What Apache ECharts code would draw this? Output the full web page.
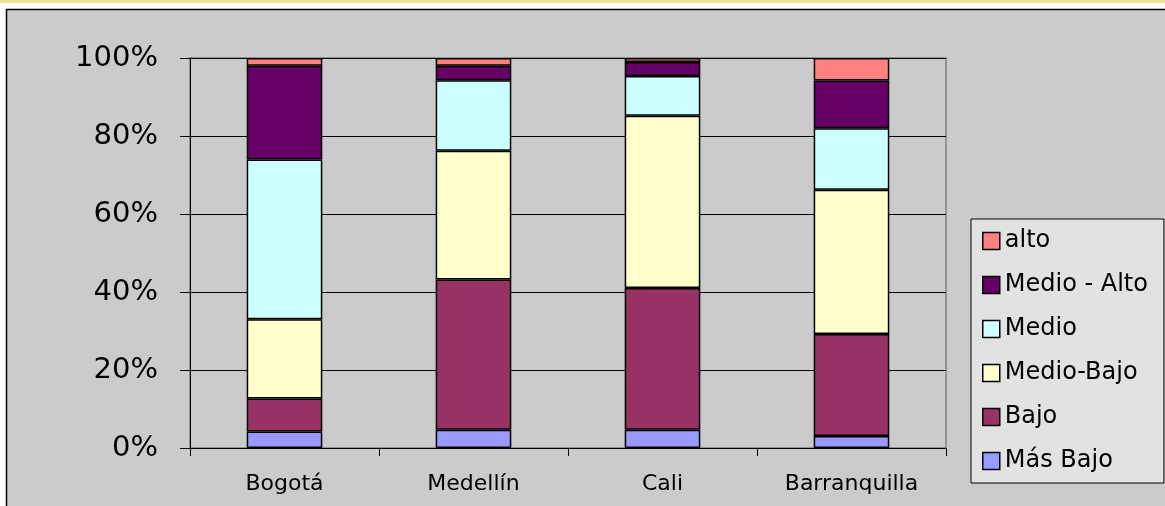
<!DOCTYPE html>
<html>
<head>
<meta charset="utf-8">
<script src="https://cdn.jsdelivr.net/npm/echarts@6/dist/echarts.min.js"></script>
<style>
html,body{margin:0;padding:0;background:#fff;}
#c{width:1165px;height:506px;}
</style>
</head>
<body>
<div id="c"></div>
<script>
const categories = ['Bogotá', 'Medellín', 'Cali', 'Barranquilla'];
const seriesNames = ['Más Bajo', 'Bajo', 'Medio-Bajo', 'Medio', 'Medio - Alto', 'alto'];
const masBajo   = [4.2, 4.7, 4.7, 3.1];
const bajo      = [8.5, 38.5, 36.3, 26.1];
const medioBajo = [20.3, 33.0, 44.2, 37.0];
const medio     = [41.0, 18.1, 10.2, 15.8];
const medioAlto = [24.0, 3.7, 3.6, 12.2];
const alto      = [2.0, 2.0, 1.0, 5.8];
const yTicks = [0, 20, 40, 60, 80, 100];

const values = [masBajo, bajo, medioBajo, medio, medioAlto, alto];
const colors = ['#9999FF', '#993366', '#FFFFCC', '#CCFFFF', '#660066', '#FF8080'];

const chart = echarts.init(document.getElementById('c'));
const font = 'DejaVu Sans, Liberation Sans, sans-serif';
chart.setOption({
  backgroundColor: '#ffffff',
  animation: false,
  graphic: [
    { type: 'rect', shape: { x: 0, y: 0, width: 1165, height: 3 }, style: { fill: '#ECE594' }, z: -10 },
    { type: 'rect', shape: { x: 6.5, y: 9.5, width: 1170, height: 510 }, style: { fill: '#CBCBCB', stroke: '#000', lineWidth: 1.5 }, z: -10 }
  ],
  grid: {
    left: 190, top: 58, width: 756, height: 390,
    show: true, borderColor: '#808080', borderWidth: 1.5, backgroundColor: 'transparent'
  },
  legend: {
    orient: 'vertical',
    left: 971, top: 219,
    data: seriesNames.slice().reverse(),
    itemWidth: 17, itemHeight: 17, itemGap: 18,
    icon: 'rect',
    padding: [9, 16, 9, 11],
    backgroundColor: '#E2E2E2',
    borderColor: '#000', borderWidth: 1,
    textStyle: { fontFamily: font, fontSize: 24, lineHeight: 26, color: '#000' },
    itemStyle: { borderColor: '#000', borderWidth: 1.5 }
  },
  xAxis: {
    type: 'category',
    data: categories,
    axisLine: { lineStyle: { color: '#000', width: 1 } },
    axisTick: { show: true, length: 8, lineStyle: { color: '#000' } },
    axisLabel: { fontFamily: font, fontSize: 22, color: '#000', margin: 25 }
  },
  yAxis: {
    type: 'value',
    min: 0, max: 100, interval: 20,
    axisLine: { show: true, lineStyle: { color: '#000', width: 1 } },
    axisTick: { show: true, length: 10, lineStyle: { color: '#000' } },
    splitLine: { lineStyle: { color: '#000', width: 1 } },
    axisLabel: {
      fontFamily: font, fontSize: 29, color: '#000', margin: 32,
      formatter: function (v) { return yTicks.indexOf(v) >= 0 ? v + '%' : ''; }
    }
  },
  series: seriesNames.map(function (name, i) {
    return {
      name: name,
      type: 'bar',
      stack: 'total',
      barWidth: '40%',
      data: values[i],
      itemStyle: { color: colors[i], borderColor: '#000', borderWidth: 1.5 }
    };
  })
});
</script>
</body>
</html>
